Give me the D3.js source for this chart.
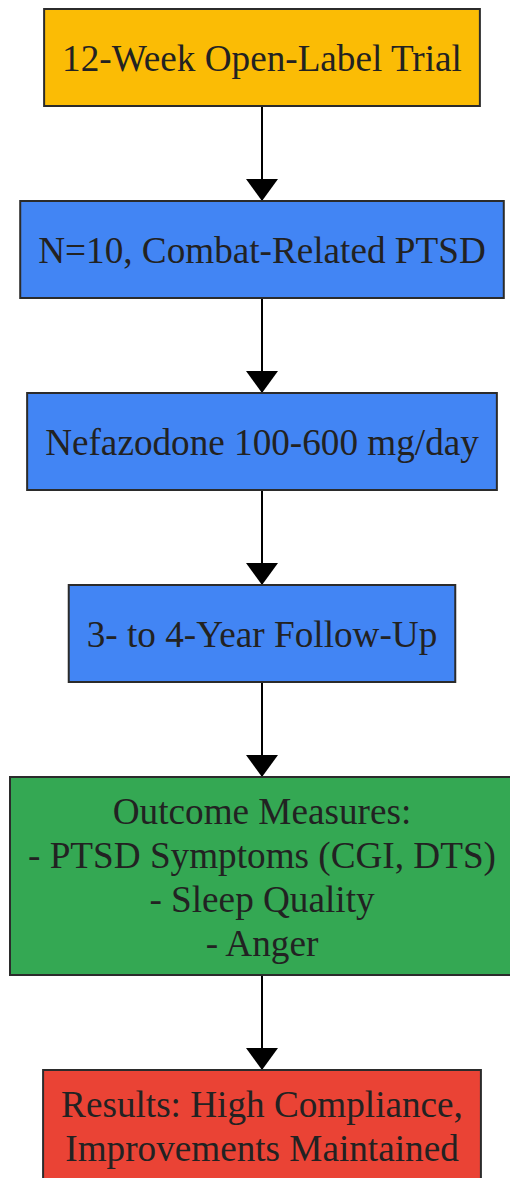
<!DOCTYPE html>
<html>
<head>
<meta charset="utf-8">
<script src="https://cdn.jsdelivr.net/npm/d3@7"></script>
<style>
  body { margin: 0; background: #fff; }
  svg { display: block; }
</style>
</head>
<body>
<div id="chart"></div>
<script>
// flow steps, top to bottom
const stepLabels = [
    ["12-Week Open-Label Trial"],
    ["N=10, Combat-Related PTSD"],
    ["Nefazodone 100-600 mg/day"],
    ["3- to 4-Year Follow-Up"],
    ["Outcome Measures:", "- PTSD Symptoms (CGI, DTS)", "- Sleep Quality", "- Anger"],
    ["Results: High Compliance,", "Improvements Maintained"]
];
const stepKinds = ["start", "process", "process", "process", "measure", "result"];
const links = [[0, 1], [1, 2], [2, 3], [3, 4], [4, 5]];

const width = 510, height = 1178;
const cx = 262;
const lineH = 44, padX = 18, gap = 95, minH = 97, startY = 9;
const fontFam = "'Liberation Serif', 'Times New Roman', serif";
const fontSize = 37.2;

const colorScale = d3.scaleOrdinal()
    .domain(["start", "process", "measure", "result"])
    .range(["#FBBC05", "#4285F4", "#34A853", "#EA4335"]);

const svg = d3.select("#chart").append("svg")
    .attr("width", width)
    .attr("height", height);

svg.append("defs").append("marker")
    .attr("id", "arrow")
    .attr("viewBox", "0 0 22 32")
    .attr("refX", 22).attr("refY", 16)
    .attr("markerWidth", 22).attr("markerHeight", 32)
    .attr("markerUnits", "userSpaceOnUse")
    .attr("orient", "auto")
  .append("path")
    .attr("d", "M0,0 L22,16 L0,32 Z")
    .attr("fill", "#000");

// measure text to size each box
const probe = svg.append("text")
    .attr("font-family", fontFam)
    .attr("font-size", fontSize);
let y = startY;
const nodes = stepLabels.map((lines, i) => {
    const w = d3.max(lines, l => { probe.text(l); return probe.node().getComputedTextLength(); });
    const h = Math.max(minH, lines.length * lineH + 22);
    const n = {i, lines, kind: stepKinds[i], w: w + padX * 2, h, y};
    y += h + gap;
    return n;
});
probe.remove();

const edges = svg.append("g");
edges.selectAll("line")
    .data(links)
    .join("line")
    .attr("x1", cx).attr("x2", cx)
    .attr("y1", d => nodes[d[0]].y + nodes[d[0]].h)
    .attr("y2", d => nodes[d[1]].y)
    .attr("stroke", "#000")
    .attr("stroke-width", 2)
    .attr("marker-end", "url(#arrow)");

const g = svg.append("g").selectAll("g.node")
    .data(nodes)
    .join("g")
    .attr("class", "node");

g.append("rect")
    .attr("x", d => cx - d.w / 2)
    .attr("y", d => d.y)
    .attr("width", d => d.w)
    .attr("height", d => d.h)
    .attr("fill", d => colorScale(d.kind))
    .attr("stroke", "#2b2b2b")
    .attr("stroke-width", 2);

g.append("text")
    .attr("font-family", fontFam)
    .attr("font-size", fontSize)
    .attr("fill", "#222")
    .attr("text-anchor", "middle")
    .selectAll("tspan")
    .data(d => d.lines.map((l, k) => ({l, k, d})))
    .join("tspan")
    .attr("x", cx)
    .attr("y", t => t.d.y + t.d.h / 2 - (t.d.lines.length - 1) / 2 * lineH + t.k * lineH + 13.5)
    .text(t => t.l);
</script>
</body>
</html>
